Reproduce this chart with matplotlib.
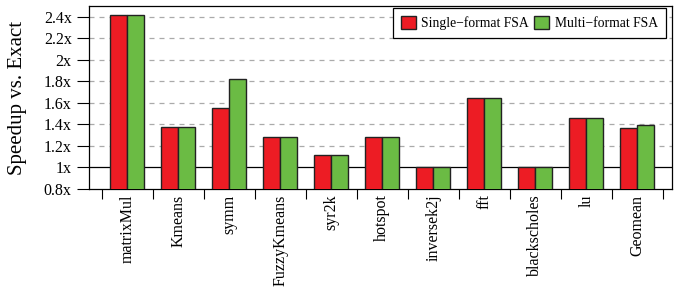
import matplotlib
matplotlib.use("Agg")
import matplotlib.pyplot as plt
import numpy as np

categories = ["matrixMul", "Kmeans", "symm", "FuzzyKmeans", "syr2k", "hotspot",
              "inversek2j", "fft", "blackscholes", "lu", "Geomean"]
single_fsa = [2.42, 1.38, 1.555, 1.28, 1.115, 1.28, 1.0, 1.65, 1.0, 1.455, 1.368]
multi_fsa = [2.42, 1.38, 1.825, 1.28, 1.115, 1.28, 1.0, 1.65, 1.0, 1.455, 1.39]
yticks = [0.8, 1.0, 1.2, 1.4, 1.6, 1.8, 2.0, 2.2, 2.4]
ytick_labels = ["0.8x", "1x", "1.2x", "1.4x", "1.6x", "1.8x", "2x", "2.2x", "2.4x"]

plt.rcParams['font.family'] = ['Liberation Serif', 'DejaVu Serif']

fig = plt.figure(figsize=(6.78, 2.93), dpi=100)
ax = fig.add_axes([89/678, 1-189/293, (672-89)/678, (189-6)/293])

x = np.arange(len(categories))
w = 0.33
ax.bar(x - w/2, single_fsa, w, bottom=0, color="#ED1C24", edgecolor="#222222",
       linewidth=1.0, label="Single\u2212format FSA", zorder=3)
ax.bar(x + w/2, multi_fsa, w, bottom=0, color="#6BBB44", edgecolor="#222222",
       linewidth=1.0, label="Multi\u2212format FSA", zorder=3)

ax.set_ylim(0.8, 2.5)
ax.set_xlim(-0.75, len(categories) - 0.32)
ax.set_yticks(yticks)
ax.set_yticklabels(ytick_labels, fontsize=11.5)
for yv in yticks[2:]:
    ax.axhline(yv, color="#aaaaaa", linestyle=(0, (4, 4)), linewidth=0.9, zorder=1)
ax.axhline(1.0, color="black", linewidth=0.9, zorder=1)

ax.set_xticks(np.arange(len(categories) + 1) - 0.5)
ax.set_xticklabels([])
ax.set_xticks(x, minor=True)
ax.set_xticklabels(categories, minor=True, rotation=90, fontsize=11.5)
ax.tick_params(axis='x', which='minor', length=0, pad=4)
ax.tick_params(axis='x', which='major', length=7, direction='out', width=0.8)
ax.tick_params(axis='y', length=8.5, direction='out', width=0.8, pad=4)

ax.set_ylabel("Speedup vs. Exact", fontsize=15)
ax.yaxis.set_label_coords((27 - 89) / 583, 0.5)

for s in ax.spines.values():
    s.set_linewidth(0.9)

leg = ax.legend(loc="upper right", ncol=2, fontsize=9.8, frameon=True, fancybox=False,
                edgecolor="black", framealpha=1, handlelength=1.1, handleheight=1.1,
                handletextpad=0.4, columnspacing=0.4, borderpad=0.6,
                borderaxespad=0, bbox_to_anchor=(1 - 6/583, 1 - 2/183))
leg.get_frame().set_linewidth(0.9)

fig.savefig("out.png", dpi=100)
